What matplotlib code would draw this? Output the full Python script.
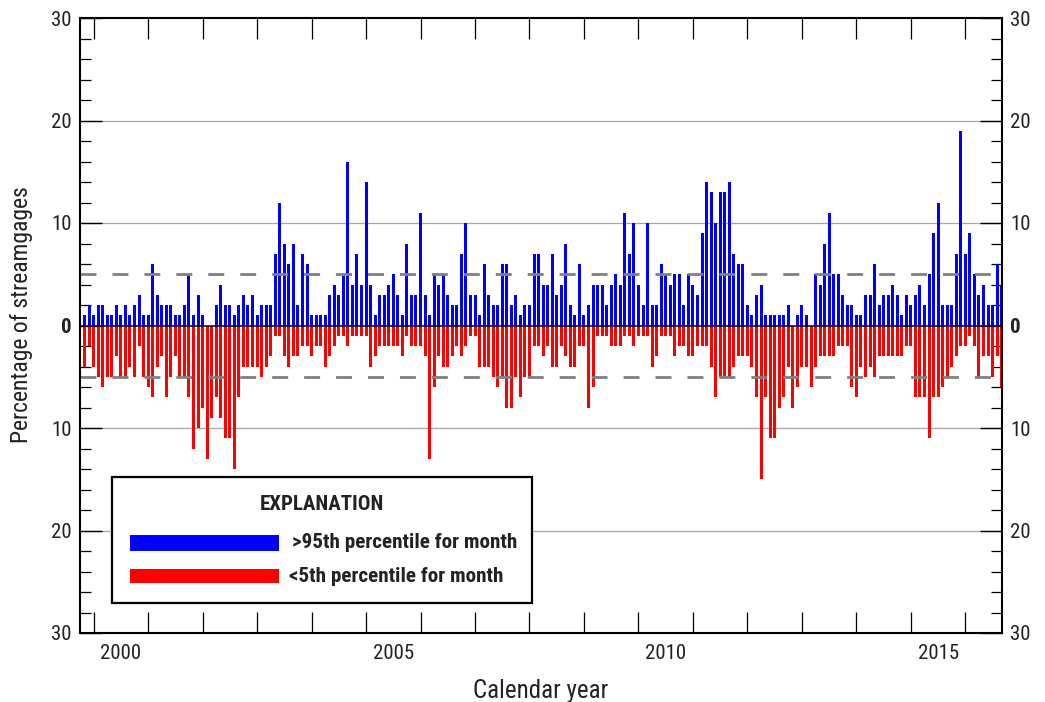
import matplotlib
matplotlib.use("Agg")
import matplotlib.pyplot as plt
from matplotlib import font_manager as fm
from matplotlib.patches import Rectangle
import numpy as np

# ---------------- data (monthly, Oct 1999 - Sep 2016) ----------------
start_year = 1999
start_month = 10
above_95 = [
    2, 1, 2, 1, 2, 2, 1, 1, 2, 1, 2, 1, 2, 3, 1, 1, 6, 3, 2, 2, 2, 1, 1, 2, 5, 1, 3,
    1, 0, 0, 2, 4, 2, 2, 1, 2, 3, 2, 3, 1, 2, 2, 2, 7, 12, 8, 6, 8, 2, 7, 6, 1,
    1, 1, 1, 3, 4, 3, 5, 16, 4, 7, 4, 14, 4, 1, 3, 3, 4, 5, 3, 1, 8, 3, 3, 11, 3, 1,
    5, 4, 5, 3, 2, 2, 7, 10, 3, 3, 1, 6, 3, 2, 2, 6, 6, 2, 3, 1, 2, 2, 7, 7, 4,
    4, 7, 3, 4, 8, 2, 1, 6, 1, 2, 4, 4, 4, 2, 4, 5, 4, 11, 7, 10, 4, 2, 10, 2, 2,
    6, 5, 4, 5, 5, 2, 5, 4, 3, 9, 14, 13, 10, 13, 13, 14, 7, 6, 6, 2, 1, 3, 4, 1, 1, 1,
    1, 1, 2, 0, 1, 2, 1, 0, 5, 4, 8, 11, 5, 5, 3, 2, 2, 1, 1, 3, 3, 6, 2, 3, 3,
    4, 3, 1, 3, 2, 3, 4, 2, 5, 9, 12, 2, 2, 2, 7, 19, 7, 9, 5, 3, 4, 2, 2, 6, 4,
]
below_5 = [
    1, 4, 2, 4, 5, 6, 5, 5, 3, 5, 5, 4, 5, 2, 5, 6, 7, 4, 3, 7, 5, 3, 5, 5, 7, 12, 10,
    8, 13, 9, 7, 9, 11, 11, 14, 7, 4, 4, 4, 4, 5, 4, 3, 1, 1, 3, 4, 3, 3, 2, 2, 3,
    2, 2, 4, 3, 2, 1, 1, 2, 1, 1, 1, 1, 4, 3, 2, 2, 2, 2, 2, 3, 1, 2, 2, 2, 3, 13,
    6, 3, 4, 4, 3, 2, 3, 2, 1, 1, 4, 4, 4, 5, 6, 5, 8, 8, 5, 7, 5, 5, 2, 2, 3,
    2, 4, 4, 2, 3, 4, 4, 2, 2, 8, 6, 1, 1, 1, 2, 2, 2, 1, 1, 2, 1, 1, 1, 4, 3,
    1, 1, 1, 3, 2, 2, 3, 3, 2, 2, 2, 4, 7, 5, 5, 5, 4, 3, 3, 3, 4, 7, 15, 7, 11, 11,
    8, 7, 4, 8, 6, 4, 4, 6, 4, 3, 3, 3, 3, 2, 2, 2, 6, 7, 4, 5, 4, 5, 3, 3, 3,
    3, 3, 3, 2, 2, 7, 7, 7, 11, 7, 7, 6, 5, 4, 3, 2, 2, 1, 2, 5, 3, 3, 5, 3, 6,
]
year_labels = ["2000", "2005", "2010", "2015"]
y_ticks = [-30, -20, -10, 0, 10, 20, 30]
threshold = 5
legend_labels = [">95th percentile for month", "<5th percentile for month"]
legend_title = "EXPLANATION"
xlabel = "Calendar year"
ylabel = "Percentage of streamgages"

# ---------------- fonts ----------------
names = {f.name for f in fm.fontManager.ttflist}
FONT = "DejaVu Sans"
for cand in ["Liberation Sans Narrow", "Roboto Condensed", "Open Sans Condensed",
             "Liberation Sans", "Roboto"]:
    if cand in names:
        FONT = cand
        break
plt.rcParams["font.family"] = [FONT, "DejaVu Sans"]
plt.rcParams["lines.scale_dashes"] = False

BLUE = "#0000ff"
RED = "#ff0000"
TXT = "#222222"

n = len(above_95)
x = np.arange(n)
above = np.array(above_95)
below = np.array(below_5)

fig = plt.figure(figsize=(10.45, 7.02), dpi=100)
ax = fig.add_axes([80 / 1045, 1 - 633 / 702, 921.7 / 1045, 615 / 702])

# gridlines
for g in [-20, -10, 10, 20]:
    ax.axhline(g, color="#a6a6a6", lw=0.9, zorder=1)

ax.bar(x, above, width=0.66, color=BLUE, zorder=2, linewidth=0)
ax.bar(x, -below, width=0.66, color=RED, zorder=2, linewidth=0)

for t in (threshold, -threshold):
    ax.axhline(t, color="#808080", lw=2.0, ls=(0, (11.5, 11.5)), zorder=3)
ax.axhline(0, color="black", lw=1.1, zorder=4)

ax.set_xlim(0, n - 1)
ax.set_ylim(-30, 30)

# x ticks: January of each year (marks), labels at mid-year
month_idx = [(start_month - 1 + i) % 12 for i in range(n)]
jan_pos = [i for i in range(n) if month_idx[i] == 0]
jul_pos = {str(start_year + (start_month - 1 + i) // 12): i
           for i in range(n) if month_idx[i] == 6}
ax.set_xticks(jan_pos)
ax.set_xticklabels([])
ax.set_xticks([jul_pos[y] for y in year_labels], minor=True)
ax.set_xticklabels(year_labels, minor=True)
ax.tick_params(axis="x", which="major", direction="in", length=15, width=0.9,
               top=True, bottom=True, color="black")
ax.tick_params(axis="x", which="minor", length=0, pad=8, labelsize=15,
               labelcolor=TXT)

# y ticks
ax.set_yticks(y_ticks)
ax.set_yticklabels([str(abs(v)) for v in y_ticks])
ax.set_yticks(np.arange(-30, 31, 2), minor=True)
ax.tick_params(axis="y", which="major", direction="in", length=15.5, width=1.0,
               left=True, right=True, labelleft=True, labelright=True,
               labelsize=15, pad=6, labelcolor=TXT)
ax.tick_params(axis="y", which="minor", direction="in", length=7.7, width=0.9,
               left=True, right=True)
for tk in ax.yaxis.get_major_ticks():
    if tk.label1.get_text() == "0":
        tk.label1.set_fontweight("bold")
        tk.label2.set_fontweight("bold")

for sp in ax.spines.values():
    sp.set_linewidth(1.5)
    sp.set_color("black")
    sp.set_zorder(5)

ax.set_xlabel(xlabel, fontsize=18, color=TXT)
ax.xaxis.set_label_coords(0.5, -0.075)
ax.set_ylabel(ylabel, fontsize=17, color=TXT)
ax.yaxis.set_label_coords(-0.051, 0.517)

# ---------------- explanation box ----------------
W, H = 1045.0, 702.0
def fx(px):
    return px / W
def fy(py):
    return 1 - py / H

fig.patches.append(Rectangle((fx(111.5), fy(603)), fx(532) - fx(111.5), fy(477) - fy(603),
                             transform=fig.transFigure, facecolor="white",
                             edgecolor="black", lw=1.6, zorder=10))
fig.text(fx(321.5), fy(504), legend_title, ha="center", va="center",
         fontsize=15, fontweight="bold", color=TXT, zorder=11)
fig.patches.append(Rectangle((fx(130), fy(550.5)), fx(279) - fx(130), fy(535) - fy(550.5),
                             transform=fig.transFigure, facecolor=BLUE, lw=0, zorder=11))
fig.patches.append(Rectangle((fx(130), fy(582.5)), fx(279) - fx(130), fy(569) - fy(582.5),
                             transform=fig.transFigure, facecolor=RED, lw=0, zorder=11))
fig.text(fx(291.5), fy(543), legend_labels[0], ha="left", va="center",
         fontsize=15.2, fontweight="bold", color=TXT, zorder=11)
fig.text(fx(289), fy(576), legend_labels[1], ha="left", va="center",
         fontsize=15.2, fontweight="bold", color=TXT, zorder=11)

fig.savefig("out.png", dpi=100)
